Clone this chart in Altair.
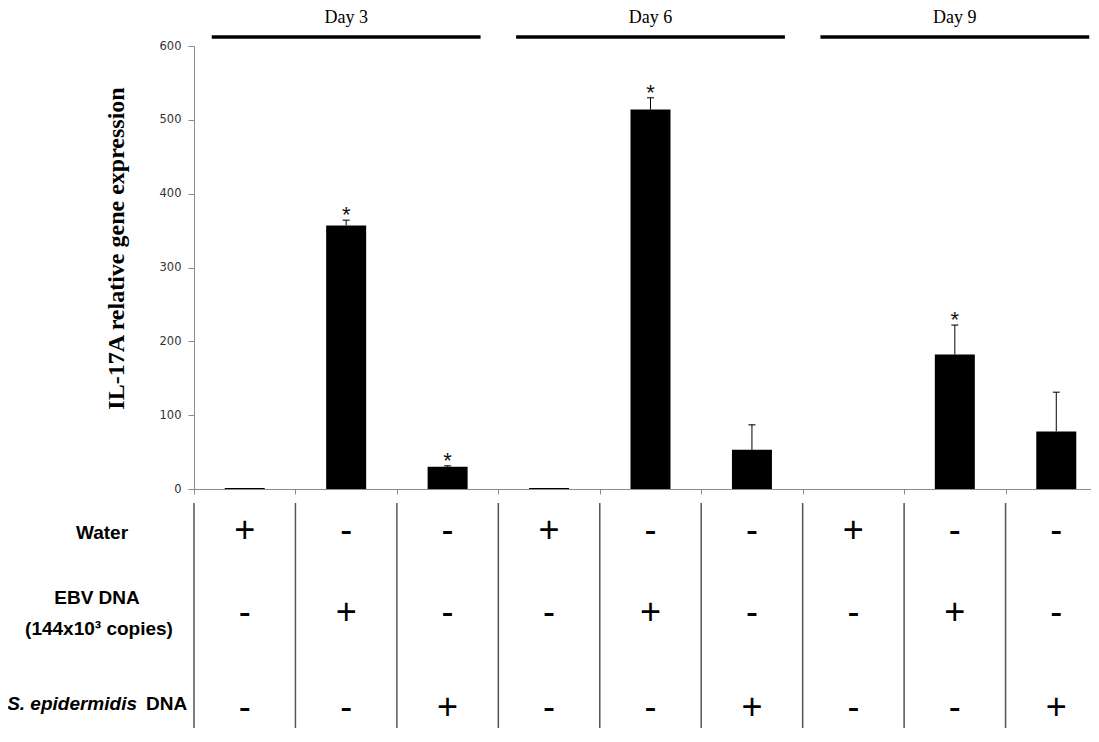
import altair as alt
import pandas as pd

# ---- data ----
day_of_bar = ["Day 3", "Day 3", "Day 3", "Day 6", "Day 6", "Day 6", "Day 9", "Day 9", "Day 9"]
values = [1.5, 357, 30, 1.2, 514, 53, 0, 182, 78]
errors = [0, 7, 1.5, 0, 16, 34, 0, 40, 53]
significant = [False, True, True, False, True, False, False, True, False]
water = ["+", "-", "-", "+", "-", "-", "+", "-", "-"]
ebv = ["-", "+", "-", "-", "+", "-", "-", "+", "-"]
sepi = ["-", "-", "+", "-", "-", "+", "-", "-", "+"]
y_ticks = [0, 100, 200, 300, 400, 500, 600]
y_title = "IL-17A relative gene expression"

n = len(values)
df = pd.DataFrame({
    "idx": list(range(n)),
    "day": day_of_bar,
    "value": values,
    "err": errors,
    "sig": significant,
    "water": water,
    "ebv": ebv,
    "sepi": sepi,
})
df["top"] = df["value"] + df["err"]
bounds = pd.DataFrame({"b": [i - 0.5 for i in range(n + 1)]})

AXIS_GRAY = "#8c8c8c"
xs = alt.Scale(domain=[-0.5, n - 0.5], range=[0, 913], nice=False, zero=False, padding=0)
ys = alt.Scale(domain=[0, 600], nice=False, padding=0)

base = alt.Chart(df)

bars = base.mark_bar(color="black", size=40).encode(
    x=alt.X("idx:Q", scale=xs, axis=alt.Axis(
        values=[i - 0.5 for i in range(n + 1)], labels=False, ticks=True, tickSize=5,
        domainColor=AXIS_GRAY, tickColor=AXIS_GRAY, grid=False, title=None)),
    y=alt.Y("value:Q", scale=ys, axis=alt.Axis(
        values=y_ticks, grid=False, tickSize=6, domainColor=AXIS_GRAY, tickColor=AXIS_GRAY,
        labelFont="DejaVu Sans", labelFontSize=11.5, labelColor="#333333", labelPadding=7,
        title=y_title, titleFont="Liberation Serif", titleFontSize=24, titleFontWeight="bold",
        titleColor="black", titleX=-78, titleY=202, titleAngle=270,
        titleAlign="center", titleBaseline="middle")),
)

err_rule = base.transform_filter("datum.err > 0").mark_rule(color="black", strokeWidth=1).encode(
    x=alt.X("idx:Q", scale=xs), y=alt.Y("value:Q", scale=ys), y2="top:Q")
err_cap = base.transform_filter("datum.err > 0").mark_tick(
    color="black", thickness=1.5, size=7, orient="horizontal").encode(
    x=alt.X("idx:Q", scale=xs), y=alt.Y("top:Q", scale=ys))

stars = base.transform_filter("datum.sig").mark_text(
    text="*", font="Liberation Sans", fontSize=22, baseline="alphabetic", dy=2, color="#111111").encode(
    x=alt.X("idx:Q", scale=xs), y=alt.Y("top:Q", scale=ys))

day_groups = base.transform_aggregate(center="mean(idx)", groupby=["day"]).transform_calculate(
    x1="datum.center - 1.325", x2="datum.center + 1.325")
day_lines = day_groups.mark_rule(color="black", strokeWidth=3.5).encode(
    x=alt.X("x1:Q", scale=xs), x2="x2:Q", y=alt.value(-9))
day_text = day_groups.mark_text(font="Liberation Serif", fontSize=18, baseline="middle", color="black").encode(
    x=alt.X("center:Q", scale=xs), y=alt.value(-28), text="day:N")

table_rules = alt.Chart(bounds).mark_rule(color="#555555", strokeWidth=1.5).encode(
    x=alt.X("b:Q", scale=xs), y=alt.value(457), y2=alt.value(720))

row_y = {"water": 485, "ebv": 567, "sepi": 662}
sign_layers = []
for col, yy in row_y.items():
    sign_layers.append(base.mark_text(font="Liberation Sans", fontSize=36, baseline="middle", color="black").encode(
        x=alt.X("idx:Q", scale=xs), y=alt.value(yy), text=f"{col}:N"))

label_font = dict(font="Liberation Sans", fontSize=19, fontWeight="bold", baseline="middle", color="black")
row_labels = [
    alt.Chart(pd.DataFrame({"t": ["Water"]})).mark_text(align="center", **label_font).encode(
        x=alt.value(-92), y=alt.value(487), text="t:N"),
    alt.Chart(pd.DataFrame({"t": ["EBV DNA"]})).mark_text(align="center", **label_font).encode(
        x=alt.value(-97), y=alt.value(552), text="t:N"),
    alt.Chart(pd.DataFrame({"t": ["(144x10\u00b3 copies)"]})).mark_text(align="center", **label_font).encode(
        x=alt.value(-95), y=alt.value(583), text="t:N"),
    alt.Chart(pd.DataFrame({"t": ["S. epidermidis"]})).mark_text(align="right", fontStyle="italic", **label_font).encode(
        x=alt.value(-57), y=alt.value(658), text="t:N"),
    alt.Chart(pd.DataFrame({"t": ["DNA"]})).mark_text(align="left", **label_font).encode(
        x=alt.value(-48), y=alt.value(658), text="t:N"),
]

chart = alt.layer(
    bars, err_rule, err_cap, stars, day_lines, day_text, table_rules, *sign_layers, *row_labels
).properties(
    width=897, height=443,
    autosize=alt.AutoSizeParams(type="none"),
    padding={"left": 186, "top": 38, "right": 0, "bottom": 239},
    background="white",
).configure_view(stroke=None)

chart.save("out.html", embed_options={"renderer": "svg", "actions": False})
